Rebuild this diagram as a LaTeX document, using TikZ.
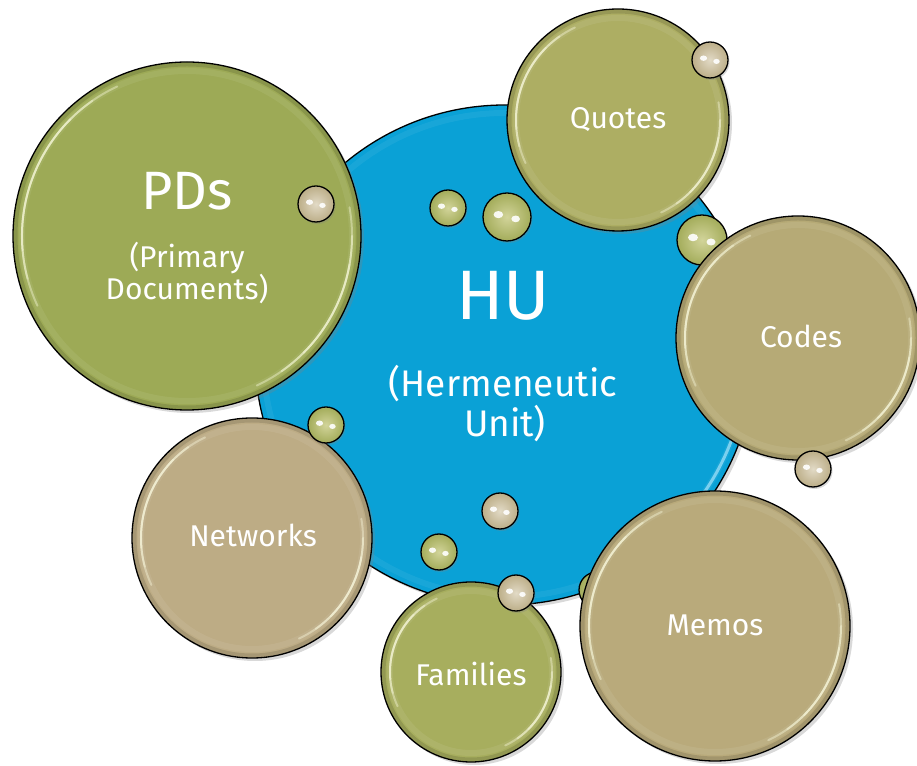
\documentclass[tikz,border=0pt]{standalone}
\usepackage{fontspec}
\setmainfont{Fira Sans}
\usetikzlibrary{shadows,calc}
\definecolor{hublue}{HTML}{0AA1D6}
\definecolor{pdgreen}{HTML}{9DAA56}
\definecolor{quogreen}{HTML}{ADAE63}
\definecolor{codetan}{HTML}{B6AA76}
\definecolor{nettan}{HTML}{BDAC85}
\definecolor{famgreen}{HTML}{A7AE5E}
\definecolor{memotan}{HTML}{B9AA7B}
\definecolor{sgreen}{HTML}{A3AC5A}
\definecolor{sgreenlt}{HTML}{D2D49A}
\definecolor{stan}{HTML}{BCAE88}
\definecolor{stanlt}{HTML}{E2DAC6}
\definecolor{hlcol}{HTML}{FBFBE0}
\tikzset{
 bigb/.style={circle, draw=black, line width=1.3pt, inner sep=0pt,
   drop shadow={opacity=.3, shadow xshift=3pt, shadow yshift=-3pt}},
 smallb/.style={circle, draw=black, line width=1.3pt, inner sep=0pt,
   drop shadow={opacity=.3, shadow xshift=1.5pt, shadow yshift=-2pt}},
 gbub/.style={inner color=sgreenlt, outer color=sgreen},
 tbub/.style={inner color=stanlt, outer color=stan},
 hlarc/.style={hlcol, opacity=.4, line width=2pt, line cap=round},
 lbl/.style={text=white, anchor=base, inner sep=0pt},
 lblsmall/.style={lbl, font=\fontsize{30}{32}\selectfont},
}
\newcommand\SmallBub[4]{%
  \node[smallb, #4, minimum size=2*#3] (#1) at (#2) {};
  \fill[white, opacity=.9] ($(#1.center)+({-0.36*#3},{0.1*#3})$) ellipse ({0.2*#3} and {0.15*#3});
  \fill[white, opacity=.9] ($(#1.center)+({0.36*#3},{-0.08*#3})$) ellipse ({0.18*#3} and {0.14*#3});
}
\newcommand\BigBub[4]{%
  \node[bigb, fill=#4, minimum size=2*#3] (#1) at (#2) {};
  \begin{scope}[shift={(#1.center)}]
    \draw[black, opacity=.12, line width=4pt] (0,0) circle ({#3-2.5});
    \draw[white, opacity=.07, line width=6pt] (0,0) circle ({#3-9});
    \foreach \sa/\ea in {115/205,125/195,135/185}{%
      \draw[hlarc] (\sa:{#3-9}) arc[start angle=\sa, end angle=\ea, radius={#3-9}];}
    \foreach \sa/\ea in {-65/10,-55/0,-45/-10}{%
      \draw[hlarc] (\sa:{#3-9}) arc[start angle=\sa, end angle=\ea, radius={#3-9}];}
  \end{scope}
}
\begin{document}
\begin{tikzpicture}[x=1pt,y=1pt]
\useasboundingbox (0,0) rectangle (917,765);
% central HU circle
\node[bigb, fill=hublue, minimum size=500] (hu) at (505,410) {};
\begin{scope}[shift={(hu.center)}]
  \draw[white, opacity=.06, line width=6pt] (0,0) circle (242);
  \draw[cyan!35!white, opacity=.7, line width=3pt, line cap=round] (-46:242) arc[start angle=-46, end angle=-12, radius=242];
\end{scope}
% small bubbles on / behind
\SmallBub{b2}{448,557}{18}{gbub}
\SmallBub{b3}{507,548}{24}{gbub}
\SmallBub{b8}{500,254}{18}{tbub}
\SmallBub{b9}{439,213}{18}{gbub}
\SmallBub{b5}{702,525}{25}{gbub}
\SmallBub{b11}{597,175}{18}{gbub}
% big bubbles
\BigBub{pds}{187,529}{174}{pdgreen}
\BigBub{quotes}{618,645}{111}{quogreen}
\BigBub{codes}{798,427}{122}{codetan}
\BigBub{networks}{252,227}{120}{nettan}
\BigBub{families}{471,93}{90}{famgreen}
\BigBub{memos}{715,139}{135}{memotan}
% small bubbles on top
\SmallBub{b1}{316,561}{18}{tbub}
\SmallBub{b4}{710,705}{18}{tbub}
\SmallBub{b6}{813,296}{18}{tbub}
\SmallBub{b7}{326,340}{18}{gbub}
\SmallBub{b10}{516,172}{18}{tbub}
% labels
\node[lbl, font=\fontsize{54}{60}\selectfont] (tpds) at (187,555) {PDs};
\node[lblsmall] (tprim) at (187,497) {(Primary};
\node[lblsmall] (tdoc) at (187,465) {Documents)};
\node[lbl, font=\fontsize{70}{72}\selectfont] (thu) at (503,445) {HU};
\node[lbl, font=\fontsize{37}{40}\selectfont] (therm) at (503,368) {(Hermeneutic};
\node[lbl, font=\fontsize{37}{40}\selectfont] (tunit) at (505,328) {Unit)};
\node[lblsmall] (tquo) at (618,636) {Quotes};
\node[lblsmall] (tcod) at (801,417) {Codes};
\node[lblsmall] (tnet) at (253,218) {Networks};
\node[lblsmall] (tfam) at (471,80) {Families};
\node[lblsmall] (tmem) at (715,129) {Memos};
\end{tikzpicture}
\end{document}
